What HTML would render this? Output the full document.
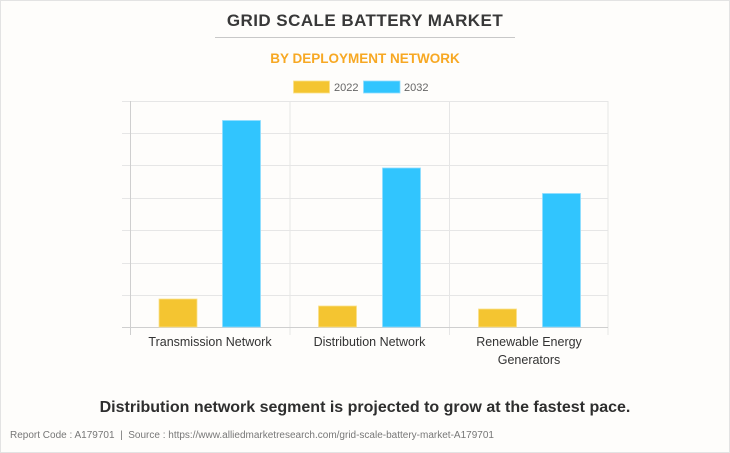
<!DOCTYPE html>
<html>
<head>
<meta charset="utf-8">
<style>
  html,body{margin:0;padding:0;}
  body{width:730px;height:453px;overflow:hidden;background:#fff;}
  .frame{position:absolute;left:0;top:0;width:728px;height:451px;border:1px solid #e3e3e3;background:#fefdfb;}
  .t{position:absolute;font-family:"Liberation Sans",Arial,sans-serif;white-space:nowrap;}
</style>
</head>
<body>
<div class="frame"></div>
<div class="t" style="left:0;width:730px;top:11px;text-align:center;font-size:17px;font-weight:bold;color:#383838;letter-spacing:0.45px;">GRID SCALE BATTERY MARKET</div>
<div style="position:absolute;left:215px;top:37px;width:300px;height:1px;background:#c8c8c8;"></div>
<div class="t" style="left:0;width:730px;top:51px;text-align:center;font-size:13.5px;font-weight:bold;color:#f7a823;">BY DEPLOYMENT NETWORK</div>

<svg width="730" height="453" style="position:absolute;left:0;top:0;" xmlns="http://www.w3.org/2000/svg">
  <!-- legend -->
  <rect x="293.5" y="81" width="36" height="12" fill="#f4c531" stroke="#fbe08a" stroke-width="0.8"/>
  <text x="334" y="91" font-family="Liberation Sans, Arial, sans-serif" font-size="11" fill="#666">2022</text>
  <rect x="363.5" y="81" width="36.5" height="12" fill="#31c5fe" stroke="#8fdcff" stroke-width="0.8"/>
  <text x="404" y="91" font-family="Liberation Sans, Arial, sans-serif" font-size="11" fill="#666">2032</text>

  <!-- grid -->
  <g stroke="#e6e6e6" stroke-width="1">
    <line x1="122" y1="101.5" x2="608" y2="101.5"/>
    <line x1="122" y1="133.5" x2="608" y2="133.5"/>
    <line x1="122" y1="165.5" x2="608" y2="165.5"/>
    <line x1="122" y1="198.5" x2="608" y2="198.5"/>
    <line x1="122" y1="230.5" x2="608" y2="230.5"/>
    <line x1="122" y1="263.5" x2="608" y2="263.5"/>
    <line x1="122" y1="295.5" x2="608" y2="295.5"/>
    <line x1="290" y1="101" x2="290" y2="335"/>
    <line x1="449.5" y1="101" x2="449.5" y2="335"/>
    <line x1="608" y1="101" x2="608" y2="335"/>
  </g>
  <line x1="130.5" y1="101" x2="130.5" y2="335" stroke="#cfcfcf" stroke-width="1"/>
  <line x1="122" y1="327.5" x2="608" y2="327.5" stroke="#cfcfcf" stroke-width="1"/>

  <!-- bars -->
  <g stroke-width="0.8">
    <rect x="159" y="299" width="38" height="28" fill="#f4c531" stroke="#fbe08a"/>
    <rect x="222.5" y="120.5" width="38" height="206.5" fill="#31c5fe" stroke="#8fdcff"/>
    <rect x="318.5" y="306" width="38" height="21" fill="#f4c531" stroke="#fbe08a"/>
    <rect x="382.5" y="168" width="38" height="159" fill="#31c5fe" stroke="#8fdcff"/>
    <rect x="478.5" y="309" width="38" height="18" fill="#f4c531" stroke="#fbe08a"/>
    <rect x="542.5" y="193.5" width="38" height="133.5" fill="#31c5fe" stroke="#8fdcff"/>
  </g>

  <!-- category labels -->
  <g font-family="Liberation Sans, Arial, sans-serif" font-size="12.5" fill="#333" text-anchor="middle">
    <text x="210" y="346">Transmission Network</text>
    <text x="369.5" y="346">Distribution Network</text>
    <text x="529" y="346">Renewable Energy</text>
    <text x="529" y="364">Generators</text>
  </g>
</svg>

<div class="t" style="left:0;width:730px;top:399px;text-align:center;font-size:16px;font-weight:bold;color:#2e2e2e;">Distribution network segment is projected to grow at the fastest pace.</div>
<div class="t" style="left:10px;top:430px;font-size:10px;color:#777;">Report Code : A179701 &nbsp;|&nbsp; Source : https://www.alliedmarketresearch.com/grid-scale-battery-market-A179701</div>
</body>
</html>
